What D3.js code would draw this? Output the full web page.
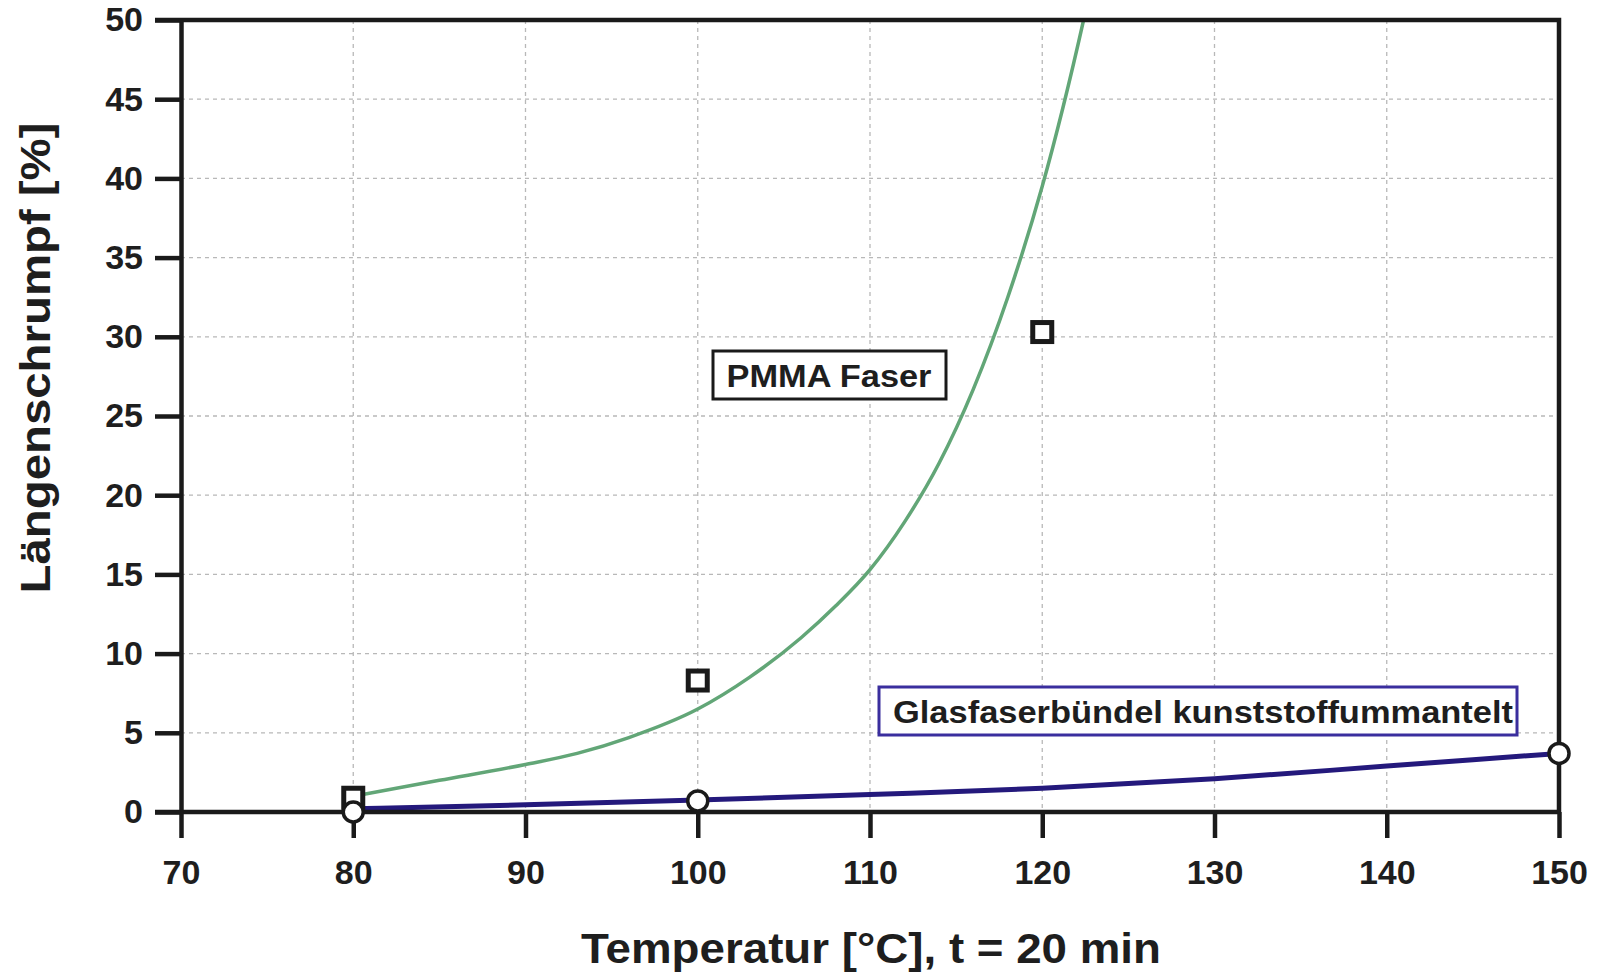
<!DOCTYPE html>
<html><head><meta charset="utf-8">
<script src="https://cdn.jsdelivr.net/npm/d3@7"></script>
<style>html,body{margin:0;padding:0;background:#fff;} svg{display:block;}</style>
</head><body>
<script>
// ---- data ----
const xTicks = [70, 80, 90, 100, 110, 120, 130, 140, 150];
const yTicks = [0, 5, 10, 15, 20, 25, 30, 35, 40, 45, 50];
const pmmaMeasured = [[80, 0.9], [100, 8.3], [120, 30.3]];
const glasMeasured = [[80, 0.0], [100, 0.7], [150, 3.7]];
const pmmaCurve = [[80, 1.0], [85, 2.0], [90, 3.0], [93, 3.7], [96, 4.7], [100, 6.5], [103, 8.5], [106, 11.0], [108, 13.0], [110, 15.3], [112, 18.3], [114, 22.0], [116, 26.7], [118, 32.5], [120, 39.5], [122.4, 50], [123.2, 54]];
const glasCurve = [[80, 0.2], [90, 0.45], [100, 0.75], [110, 1.1], [120, 1.5], [130, 2.1], [140, 2.9], [150, 3.7]];
const labels = { x: "Temperatur [°C], t = 20 min", y: "Längenschrumpf [%]", pmma: "PMMA Faser", glas: "Glasfaserbündel kunststoffummantelt" };

const W = 1607, H = 977;
const svg = d3.select("body").append("svg").attr("width", W).attr("height", H);
const x = d3.scaleLinear().domain([70, 150]).range([181, 1559]);
const y = d3.scaleLinear().domain([0, 50]).range([812, 20]);
const font = "'Liberation Sans', Arial, sans-serif";

// grid
const grid = svg.append("g").attr("stroke", "#b8b8b8").attr("stroke-width", 1.3).attr("stroke-dasharray", "4,4");
grid.selectAll("line.v").data(xTicks.filter(d => d > 70 && d < 150)).join("line")
  .attr("x1", d => x(d)).attr("x2", d => x(d)).attr("y1", y(50)).attr("y2", y(0));
grid.selectAll("line.h").data(yTicks.filter(d => d > 0 && d < 50)).join("line")
  .attr("x1", x(70)).attr("x2", x(150)).attr("y1", d => y(d)).attr("y2", d => y(d));

// clip
svg.append("clipPath").attr("id", "clip").append("rect")
  .attr("x", x(70)).attr("y", y(50)).attr("width", x(150) - x(70)).attr("height", y(0) - y(50));

const line = d3.line().x(d => x(d[0])).y(d => y(d[1])).curve(d3.curveMonotoneX);
svg.append("path").datum(pmmaCurve).attr("clip-path", "url(#clip)").attr("d", line)
  .attr("fill", "none").attr("stroke", "#62a677").attr("stroke-width", 3.5);
svg.append("path").datum(glasCurve).attr("d", line)
  .attr("fill", "none").attr("stroke", "#24197c").attr("stroke-width", 5);

// axes
const ax = svg.append("g").attr("transform", `translate(0,${y(0)})`)
  .call(d3.axisBottom(x).tickValues(xTicks).tickSize(26).tickSizeOuter(0).tickPadding(22));
const ay = svg.append("g").attr("transform", `translate(${x(70)},0)`)
  .call(d3.axisLeft(y).tickValues(yTicks).tickSize(26).tickSizeOuter(0).tickPadding(12));
[ax, ay].forEach(g => {
  g.select(".domain").attr("stroke", "#1a1a1a").attr("stroke-width", 4.5);
  g.selectAll(".tick line").attr("stroke", "#1a1a1a").attr("stroke-width", 4.5);
  g.selectAll(".tick text").attr("fill", "#1e1e1e").style("font-family", font)
    .style("font-weight", "bold").style("font-size", "34px");
});
ax.select(".domain").attr("d", `M${x(70) - 26},0H${x(150)}`);
// frame top & right
svg.append("path").attr("d", `M${x(70) - 26},${y(50)}H${x(150)}V${y(0)}`)
  .attr("fill", "none").attr("stroke", "#1a1a1a").attr("stroke-width", 4.5);

// markers
svg.selectAll("rect.sq").data(pmmaMeasured).join("rect").attr("class", "sq")
  .attr("x", d => x(d[0]) - 9.5).attr("y", d => y(d[1]) - 9.5).attr("width", 19).attr("height", 19)
  .attr("fill", "#fff").attr("stroke", "#1a1a1a").attr("stroke-width", 5);
svg.selectAll("circle.ci").data(glasMeasured).join("circle").attr("class", "ci")
  .attr("cx", d => x(d[0])).attr("cy", d => y(d[1])).attr("r", 10)
  .attr("fill", "#fff").attr("stroke", "#1a1a1a").attr("stroke-width", 3.5);

// annotation boxes
svg.append("rect").attr("x", 713).attr("y", 351).attr("width", 233).attr("height", 48)
  .attr("fill", "#fff").attr("stroke", "#1a1a1a").attr("stroke-width", 3);
svg.append("text").attr("x", 829).attr("y", 376).attr("text-anchor", "middle").attr("dominant-baseline", "central")
  .style("font-family", font).style("font-weight", "bold").style("font-size", "32px").attr("fill", "#1e1e1e")
  .attr("textLength", 205).attr("lengthAdjust", "spacingAndGlyphs").text(labels.pmma);

svg.append("rect").attr("x", 879).attr("y", 687).attr("width", 638).attr("height", 48)
  .attr("fill", "#fff").attr("stroke", "#3a2e9e").attr("stroke-width", 3);
svg.append("text").attr("x", 893).attr("y", 712).attr("dominant-baseline", "central")
  .style("font-family", font).style("font-weight", "bold").style("font-size", "31px").attr("fill", "#1e1e1e")
  .attr("textLength", 620).attr("lengthAdjust", "spacingAndGlyphs").text(labels.glas);

// axis titles
svg.append("text").attr("x", 871).attr("y", 963).attr("text-anchor", "middle")
  .style("font-family", font).style("font-weight", "bold").style("font-size", "43px").attr("fill", "#1e1e1e")
  .attr("textLength", 580).attr("lengthAdjust", "spacingAndGlyphs").text(labels.x);
svg.append("text").attr("transform", "translate(50,358) rotate(-90)").attr("text-anchor", "middle")
  .style("font-family", font).style("font-weight", "bold").style("font-size", "43px").attr("fill", "#1e1e1e")
  .attr("textLength", 471).attr("lengthAdjust", "spacingAndGlyphs").text(labels.y);
</script>
</body></html>
